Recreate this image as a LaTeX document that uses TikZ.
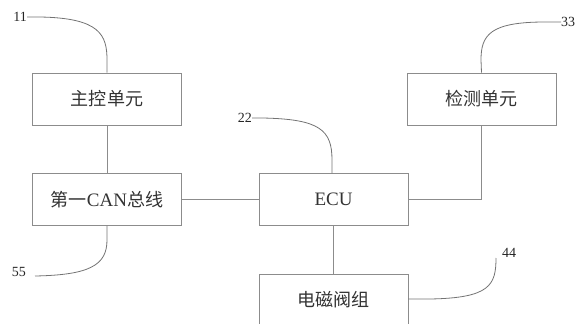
\documentclass[tikz,border=0pt]{standalone}
\usepackage{fontspec}
\setmainfont{Liberation Serif}
\newfontfamily\cjk{Noto Sans CJK SC}[Scale=0.95]
\begin{document}
\begin{tikzpicture}[x=1pt,y=-1pt,
  box/.style={draw=black!45,line width=0.8pt,minimum width=149pt,minimum height=52pt,inner sep=0pt,text=black!80,font=\fontsize{19}{22}\selectfont},
  link/.style={draw=black!45,line width=0.8pt},
  lead/.style={draw=black!55,line width=0.8pt},
  num/.style={inner sep=0pt,text=black!85,font=\fontsize{14}{16}\selectfont}]
\useasboundingbox (0,0) rectangle (579,324);
\node[box] (zk) at (107,99) {\cjk 主控单元};
\node[box] (can) at (107,199.5) {{\cjk 第一}CAN{\cjk 总线}};
\node[box] (ecu) at (333.5,199.5) {ECU};
\node[box] (jc) at (481.5,99) {\cjk 检测单元};
\node[box] (dc) at (333.5,300) {\cjk 电磁阀组};
\draw[link] (zk) -- (can);
\draw[link] (can) -- (ecu);
\draw[link] (ecu) -- (dc);
\draw[link] (jc.south) |- (ecu.east);
\node[num,anchor=east] (n11) at (27,17) {11};
\node[num,anchor=east] (n22) at (252,118) {22};
\node[num,anchor=west] (n33) at (561,22) {33};
\node[num,anchor=west] (n44) at (502,253) {44};
\node[num,anchor=east] (n55) at (26,272) {55};
\coordinate (a11) at (zk.north);
\draw[lead] (n11.east) -- (40,17) .. controls (100,18) and (107,35) .. (107,60) -- (a11);
\draw[lead] (n22.east) -- (262,118) .. controls (320,119) and (332,130) .. (332,160) -- (ecu.north -| 332,0);
\draw[lead] (n33.west) -- (545,22) .. controls (490,22) and (481,35) .. (481,60) -- (jc.north);
\draw[lead] (dc.east |- 0,299) -- (430,299) .. controls (490,298) and (496,285) .. (496,258);
\draw[lead] (can.south) -- (107,240) .. controls (107,265) and (90,275) .. (35,276);
\end{tikzpicture}
\end{document}
